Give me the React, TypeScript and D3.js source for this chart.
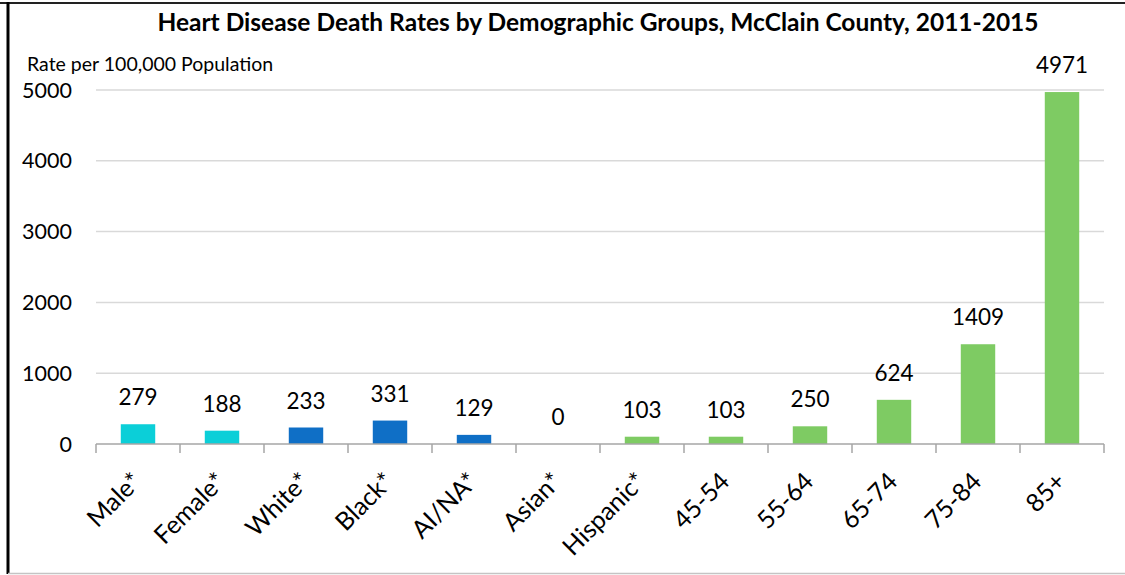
import React, { useEffect, useRef } from 'react';
import * as d3 from 'd3';

const categories = ['Male*', 'Female*', 'White*', 'Black*', 'AI/NA*', 'Asian*', 'Hispanic*', '45-54', '55-64', '65-74', '75-84', '85+'];
const rates = [279, 188, 233, 331, 129, 0, 103, 103, 250, 624, 1409, 4971];
const groups = ['sex', 'sex', 'race', 'race', 'race', 'race', 'ethnicity', 'age', 'age', 'age', 'age', 'age'];
const yTicks = [0, 1000, 2000, 3000, 4000, 5000];

const title = 'Heart Disease Death Rates by Demographic Groups, McClain County, 2011-2015';
const yLabel = 'Rate per 100,000 Population';

const groupColor: Record<string, string> = {
    sex: '#0bcfd8',
    race: '#0f6fc6',
    ethnicity: '#7ecb63',
    age: '#7ecb63',
};

const FONT = 'Lato, "Open Sans", sans-serif';

const BarChart: React.FC = () => {
    const svgRef = useRef<SVGSVGElement>(null);

    useEffect(() => {
        if (!svgRef.current) return;
        const svg = d3.select(svgRef.current);
        svg.selectAll('*').remove();

        const width = 1125;
        const height = 575;
        const margin = { top: 90, right: 21, bottom: 131, left: 96 };

        const x = d3.scaleBand<string>()
            .domain(categories)
            .range([margin.left, width - margin.right])
            .paddingInner(0.59)
            .paddingOuter(0.295);

        const y = d3.scaleLinear()
            .domain([0, 5000])
            .range([height - margin.bottom, margin.top]);

        const data = categories.map((c, i) => ({ cat: c, value: rates[i], group: groups[i] }));

        // frame
        svg.append('line')
            .attr('x1', 0).attr('x2', width).attr('y1', 3).attr('y2', 3)
            .attr('stroke', '#222').attr('stroke-width', 2);
        svg.append('line')
            .attr('x1', 8).attr('x2', 8).attr('y1', 2).attr('y2', 574)
            .attr('stroke', '#000').attr('stroke-width', 3);
        svg.append('line')
            .attr('x1', 8).attr('x2', width).attr('y1', 573.5).attr('y2', 573.5)
            .attr('stroke', '#c4c4c4').attr('stroke-width', 1.5);

        // title
        svg.append('text')
            .attr('x', 598)
            .attr('y', 31)
            .attr('text-anchor', 'middle')
            .attr('font-family', FONT)
            .attr('font-weight', 'bold')
            .attr('font-size', 24.5)
            .attr('fill', '#000')
            .text(title);

        // y label
        svg.append('text')
            .attr('x', 27)
            .attr('y', 71)
            .attr('font-family', FONT)
            .attr('font-size', 19.5)
            .attr('fill', '#000')
            .text(yLabel);

        // gridlines
        svg.append('g')
            .selectAll('line')
            .data(yTicks.filter(t => t > 0))
            .join('line')
            .attr('x1', margin.left)
            .attr('x2', width - margin.right)
            .attr('y1', d => y(d))
            .attr('y2', d => y(d))
            .attr('stroke', '#d9d9d9')
            .attr('stroke-width', 1.5);

        // y tick labels
        svg.append('g')
            .selectAll('text')
            .data(yTicks)
            .join('text')
            .attr('x', 72)
            .attr('y', d => y(d))
            .attr('dy', '0.35em')
            .attr('text-anchor', 'end')
            .attr('font-family', FONT)
            .attr('font-size', 21.5)
            .attr('fill', '#000')
            .text(d => d);

        // bars
        svg.append('g')
            .selectAll('rect')
            .data(data)
            .join('rect')
            .attr('x', d => x(d.cat)!)
            .attr('y', d => y(d.value))
            .attr('width', x.bandwidth())
            .attr('height', d => y(0) - y(d.value))
            .attr('fill', d => groupColor[d.group]);

        // value labels
        svg.append('g')
            .selectAll('text')
            .data(data)
            .join('text')
            .attr('x', d => x(d.cat)! + x.bandwidth() / 2)
            .attr('y', d => y(d.value) - 19)
            .attr('text-anchor', 'middle')
            .attr('font-family', FONT)
            .attr('font-size', 22.5)
            .attr('fill', '#000')
            .text(d => d.value);

        // x axis
        const step = x.step();
        const x0 = margin.left;
        const axisY = y(0);
        const bounds = d3.range(categories.length + 1).map(i => x0 + i * step);
        const axis = svg.append('g');
        axis.append('line')
            .attr('x1', x0).attr('x2', bounds[bounds.length - 1])
            .attr('y1', axisY).attr('y2', axisY)
            .attr('stroke', '#a6a6a6').attr('stroke-width', 1.5);
        axis.selectAll('line.tick')
            .data(bounds)
            .join('line')
            .attr('class', 'tick')
            .attr('x1', d => d).attr('x2', d => d)
            .attr('y1', axisY).attr('y2', axisY + 9)
            .attr('stroke', '#a6a6a6').attr('stroke-width', 1.5);

        svg.append('g')
            .selectAll('text')
            .data(categories)
            .join('text')
            .attr('transform', d => `translate(${x(d)! + x.bandwidth() / 2 + 5},${axisY + 39}) rotate(-45)`)
            .attr('text-anchor', 'end')
            .attr('font-family', FONT)
            .attr('font-size', 25)
            .attr('fill', '#000')
            .text(d => d);
    }, []);

    return <svg ref={svgRef} width={1125} height={575} style={{ position: 'absolute', left: 0, top: 0, background: '#fff' }} />;
};

export default function App() {
    return <BarChart />;
}
